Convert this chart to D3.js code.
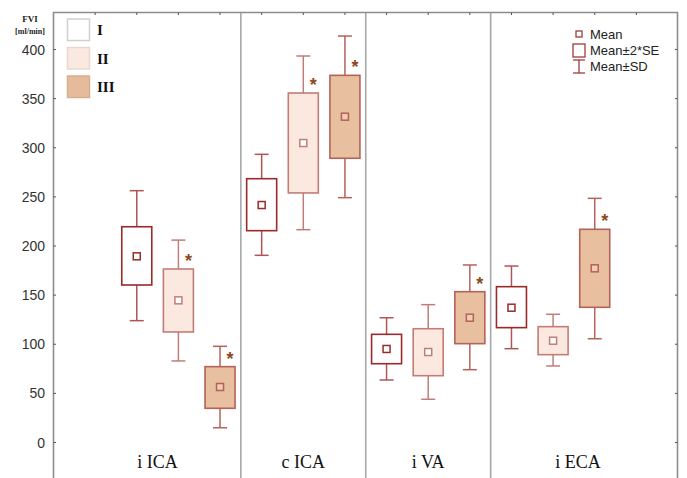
<!DOCTYPE html>
<html><head><meta charset="utf-8">
<script src="https://cdn.jsdelivr.net/npm/d3@7"></script>
<style>body{margin:0;background:#fff}svg{display:block}</style>
</head><body>
<script>
const categories = ["i ICA","c ICA","i VA","i ECA"];
const groups = ["I","II","III"];
const means = [[189.5,144.7,56.5],[241.7,304.8,331.6],[95.2,92.1,127],[137.2,103.6,177.3]];
const seHi  = [[219.6,176.6,77.2],[268.5,355.7,373.7],[110.1,115.8,153.5],[158.6,117.9,217]];
const seLo  = [[160.3,112.5,34.8],[215.6,254,289.3],[80.2,68,100.6],[116.9,89.4,137.6]];
const sdHi  = [[256.3,206,97.9],[293.3,393.4,413.7],[127,140.3,180.7],[179.6,130.5,248.5]];
const sdLo  = [[124,83,15],[190.5,216.6,249.2],[63.6,44,74.1],[95.5,77.9,105.6]];
const significant = [[0,1,1],[0,1,1],[0,0,1],[0,0,1]];
const yTicks = [0,50,100,150,200,250,300,350,400];
const labelPos = [0.5,4,7,10.6];
const legendItems = ["Mean","Mean±2*SE","Mean±SD"];

const W=687,H=478;
const fill = ["#ffffff","#fbe9df","#e8bf9f"];
const boxStroke = ["#9a2a2a","#c27d79","#b5625a"];
const whiskStroke = ["#b05555","#c27d79","#b5625a"];
const legFill = ["#ffffff","#fbe8de","#e6bb9c"];
const legStroke = ["#d0d0d0","#e8d8cf","#d8ae93"];

const svg=d3.select("body").append("svg").attr("width",W).attr("height",H);
const x=d3.scaleLinear().domain([-2,13]).range([53.5,678]);
const y=d3.scaleLinear().domain([0,400]).range([442.5,49.5]);
const fTop=12.5, fLeft=53.5, fRight=677.5, fBottom=482;

// dividers
[2.5,5.5,8.5].forEach(d=>{
  svg.append("line").attr("x1",x(d)).attr("x2",x(d)).attr("y1",fTop).attr("y2",fBottom)
    .attr("stroke","#a8a8a8").attr("stroke-width",1.6);
});

// frame
svg.append("path").attr("d",`M${fLeft},${fBottom}V${fTop}H${fRight}V${fBottom}`)
  .attr("fill","none").attr("stroke","#8c8c8c").attr("stroke-width",1.6);

// left/right ticks & labels
yTicks.forEach(t=>{
  svg.append("line").attr("x1",fLeft).attr("x2",fLeft+2.5).attr("y1",y(t)).attr("y2",y(t)).attr("stroke","#555").attr("stroke-width",1);
  svg.append("line").attr("x1",fRight).attr("x2",fRight-2.5).attr("y1",y(t)).attr("y2",y(t)).attr("stroke","#555").attr("stroke-width",1);
  svg.append("text").attr("x",45).attr("y",y(t)).attr("dy","0.36em").attr("text-anchor","end")
    .attr("font-family","Liberation Sans, Arial, sans-serif").attr("font-size",14).attr("fill","#333").text(t);
});
// top ticks
d3.range(-1,13).forEach(k=>{
  svg.append("line").attr("x1",x(k)).attr("x2",x(k)).attr("y1",fTop).attr("y2",fTop+2.5).attr("stroke","#555").attr("stroke-width",1);
});

// y label
svg.append("text").attr("x",30).attr("y",22).attr("text-anchor","middle")
  .attr("font-family","Liberation Serif, Times New Roman, serif").attr("font-weight","bold").attr("font-size",9).attr("fill","#222").text("FVI");
svg.append("text").attr("x",30).attr("y",34).attr("text-anchor","middle")
  .attr("font-family","Liberation Serif, Times New Roman, serif").attr("font-weight","bold").attr("font-size",8).attr("fill","#222").text("[ml/min]");

// boxes
const bw=30, cw=14, mw=7;
categories.forEach((c,ci)=>{
  groups.forEach((g,gi)=>{
    const k=ci*3+gi, cx=x(k);
    const G=svg.append("g");
    G.append("line").attr("x1",cx).attr("x2",cx).attr("y1",y(sdHi[ci][gi])).attr("y2",y(seHi[ci][gi])).attr("stroke",whiskStroke[gi]).attr("stroke-width",1.5);
    G.append("line").attr("x1",cx).attr("x2",cx).attr("y1",y(seLo[ci][gi])).attr("y2",y(sdLo[ci][gi])).attr("stroke",whiskStroke[gi]).attr("stroke-width",1.5);
    [sdHi[ci][gi],sdLo[ci][gi]].forEach(v=>{
      G.append("line").attr("x1",cx-cw/2).attr("x2",cx+cw/2).attr("y1",y(v)).attr("y2",y(v)).attr("stroke",whiskStroke[gi]).attr("stroke-width",1.5);
    });
    G.append("rect").attr("x",cx-bw/2).attr("width",bw).attr("y",y(seHi[ci][gi])).attr("height",y(seLo[ci][gi])-y(seHi[ci][gi]))
      .attr("fill",fill[gi]).attr("stroke",boxStroke[gi]).attr("stroke-width",1.6);
    G.append("rect").attr("x",cx-mw/2).attr("width",mw).attr("y",y(means[ci][gi])-mw/2).attr("height",mw)
      .attr("fill",gi==2?"#efcdb4":"#fff").attr("stroke",boxStroke[gi]).attr("stroke-width",1.5);
    if(significant[ci][gi]){
      G.append("text").attr("x",cx+10).attr("y",y(seHi[ci][gi])-12+10).attr("text-anchor","middle")
        .attr("font-family","Liberation Sans, Arial, sans-serif").attr("font-weight","bold").attr("font-size",18).attr("fill","#8b4a1e").text("*");
    }
  });
  svg.append("text").attr("x",x(labelPos[ci])).attr("y",468).attr("text-anchor","middle")
    .attr("font-family","Liberation Serif, Times New Roman, serif").attr("font-size",18).attr("fill","#111").text(c);
});

// group legend
groups.forEach((g,gi)=>{
  const yy=19+gi*28.5;
  svg.append("rect").attr("x",67.5).attr("y",yy).attr("width",22).attr("height",21.5)
    .attr("fill",legFill[gi]).attr("stroke",legStroke[gi]).attr("stroke-width",1.5);
  svg.append("text").attr("x",97).attr("y",yy+16).attr("font-family","Liberation Serif, Times New Roman, serif")
    .attr("font-weight","bold").attr("font-size",15).attr("fill","#111").text(g);
});

// stat legend
const lx=579, lc="#a33a3a";
svg.append("rect").attr("x",lx-3).attr("y",31).attr("width",6).attr("height",6).attr("fill","#fff").attr("stroke",lc).attr("stroke-width",1.3);
svg.append("rect").attr("x",lx-6).attr("y",44).attr("width",12).attr("height",13).attr("fill","#fff").attr("stroke",lc).attr("stroke-width",1.3);
svg.append("line").attr("x1",lx).attr("x2",lx).attr("y1",60).attr("y2",73).attr("stroke",lc).attr("stroke-width",1.3);
svg.append("line").attr("x1",lx-6).attr("x2",lx+6).attr("y1",60).attr("y2",60).attr("stroke",lc).attr("stroke-width",1.3);
svg.append("line").attr("x1",lx-6).attr("x2",lx+6).attr("y1",73).attr("y2",73).attr("stroke",lc).attr("stroke-width",1.3);
legendItems.forEach((t,i)=>{
  svg.append("text").attr("x",590).attr("y",34+i*16).attr("dy","0.35em")
    .attr("font-family","Liberation Sans, Arial, sans-serif").attr("font-size",13).attr("fill","#222").text(t);
});
</script>
</body></html>
